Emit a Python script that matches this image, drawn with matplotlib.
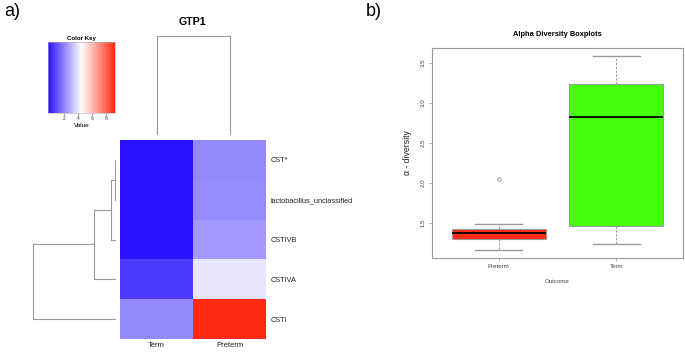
import numpy as np
import matplotlib
matplotlib.use('Agg')
import matplotlib.pyplot as plt
from matplotlib.colors import LinearSegmentedColormap

plt.rcParams['font.family'] = ['Liberation Sans', 'DejaVu Sans']

### Data ###
# heatmap (panel a), rows top to bottom
row_names = ['CST*', 'lactobacillus_unclassified', 'CSTIVB', 'CSTIVA', 'CSTI']
col_names = ['Term', 'Preterm']
term_vals = [0.0, 0.0, 0.0, 0.8, 2.3]
preterm_vals = [2.3, 2.35, 2.65, 4.1, 9.2]
# row dendrogram: chain merge heights (((CST*, lacto), CSTIVB), CSTIVA), CSTI
row_merge_heights = [0.08, 0.42, 1.85, 7.0]
col_merge_height = 8.6
key_ticks = [2, 4, 6, 8]

# boxplots (panel b)
groups = ['Preterm', 'Term']
medians = [1.375, 2.82]
q1 = [1.296, 1.466]
q3 = [1.425, 3.24]
whis_lo = [1.154, 1.234]
whis_hi = [1.484, 3.59]
outliers = [[2.05], []]
box_colors = ['#ff2a12', '#43ff0c']

W, H = 685, 353
fig = plt.figure(figsize=(W / 100, H / 100), dpi=100)


def px_axes(x0, y0, x1, y1):
    # pixel box (top-left origin) -> figure axes
    return fig.add_axes([x0 / W, 1 - y1 / H, (x1 - x0) / W, (y1 - y0) / H])


cmap = LinearSegmentedColormap.from_list('bluered', ['#2a12ff', '#ffffff', '#ff2a12'])
data = np.array([term_vals, preterm_vals]).T
vmin, vmax = data.min(), data.max()
grey = '#9a9a9a'

### Heatmap ###
ax_h = px_axes(120, 140, 266, 339)
ax_h.imshow(data, cmap=cmap, vmin=vmin, vmax=vmax, aspect='auto',
            extent=(0, 2, len(row_names), 0), interpolation='nearest')
ax_h.set_xlim(0, 2)
ax_h.set_ylim(len(row_names), 0)
ax_h.set_yticks(np.arange(len(row_names)) + 0.5)
ax_h.set_yticklabels(row_names, fontsize=5.3, color='#222222')
ax_h.yaxis.tick_right()
ax_h.set_xticks(np.arange(2) + 0.5)
ax_h.set_xticklabels(col_names, fontsize=5.5, color='#222222')
ax_h.tick_params(length=0, pad=3.5)
ax_h.tick_params(axis='x', pad=2.5)
for s in ax_h.spines.values():
    s.set_visible(False)

### Row dendrogram ###
ax_r = px_axes(10, 140, 116, 339)
pos, h = 0.5, 0.0
for i, mh in enumerate(row_merge_heights):
    leaf = i + 1.5
    ax_r.plot([h, mh, mh, 0], [pos, pos, leaf, leaf], color=grey, lw=0.8)
    pos, h = (pos + leaf) / 2, mh
ax_r.set_xlim(row_merge_heights[-1] * 106 / 83, 0)
ax_r.set_ylim(len(row_names), 0)
ax_r.axis('off')

### Column dendrogram ###
ax_c = px_axes(120, 30, 266, 135)
ax_c.plot([0.5, 0.5, 1.5, 1.5], [0, col_merge_height, col_merge_height, 0], color=grey, lw=0.8)
ax_c.set_xlim(0, 2)
ax_c.set_ylim(0, col_merge_height * 105 / 99)
ax_c.axis('off')
fig.text(192 / W, 1 - 22 / H, 'GTP1', ha='center', va='center', fontsize=7.7, fontweight='bold')

### Color key ###
ax_k = px_axes(48, 42, 115, 113)
grad = np.linspace(vmin, vmax, 256)[None, :]
ax_k.imshow(grad, cmap=cmap, vmin=vmin, vmax=vmax, aspect='auto',
            extent=(vmin - 0.25, vmax + 0.1, 0, 1))
ax_k.set_xlim(vmin - 0.25, vmax + 0.1)
ax_k.set_yticks([])
ax_k.set_xticks(key_ticks)
ax_k.tick_params(axis='x', labelsize=3.5, length=1.5, width=0.4, pad=1, colors='#333333')
for s in ax_k.spines.values():
    s.set_color('#aaaaaa')
    s.set_linewidth(0.4)
ax_k.set_title('Color Key', fontsize=4.4, fontweight='bold', pad=1.5)
ax_k.set_xlabel('Value', fontsize=4.6, labelpad=1)

### Boxplots ###
ax_b = px_axes(432, 48, 683, 258)
stats = []
for i, g in enumerate(groups):
    stats.append(dict(label=g, med=medians[i], q1=q1[i], q3=q3[i],
                      whislo=whis_lo[i], whishi=whis_hi[i], fliers=outliers[i]))
bp = ax_b.bxp(stats, positions=[1, 2], widths=0.8, patch_artist=True,
              boxprops=dict(edgecolor=grey, linewidth=0.8),
              medianprops=dict(color='black', linewidth=1.3),
              whiskerprops=dict(color=grey, linestyle=(0, (2, 1.5)), linewidth=0.8),
              capprops=dict(color=grey, linewidth=1.0),
              capwidths=0.4,
              flierprops=dict(marker='o', markersize=2.5, markerfacecolor='none',
                              markeredgecolor='#777777', markeredgewidth=0.5))
for patch, c in zip(bp['boxes'], box_colors):
    patch.set_facecolor(c)
ax_b.set_xlim(0.43, 2.57)
ax_b.set_ylim(1.06, 3.69)
ax_b.set_yticks([1.5, 2.0, 2.5, 3.0, 3.5])
ax_b.set_yticklabels(['1.5', '2.0', '2.5', '3.0', '3.5'], rotation=90, va='center')
ax_b.tick_params(labelsize=4.4, length=2.5, width=0.5, colors=grey, labelcolor='#444444', pad=2)
for s in ax_b.spines.values():
    s.set_color(grey)
    s.set_linewidth(0.8)
ax_b.set_title('Alpha Diversity Boxplots', fontsize=5.4, fontweight='bold', pad=9)
ax_b.set_xlabel('Outcome', fontsize=4.4, color='#444444', labelpad=7)
ax_b.set_ylabel('α - diversity', fontsize=6.3, color='#222222', labelpad=6)

### Panel labels ###
fig.text(4 / W, 1 - 12 / H, 'a)', ha='left', va='center', fontsize=13)
fig.text(366 / W, 1 - 12 / H, 'b)', ha='left', va='center', fontsize=13)

fig.savefig('out.png', dpi=100)
